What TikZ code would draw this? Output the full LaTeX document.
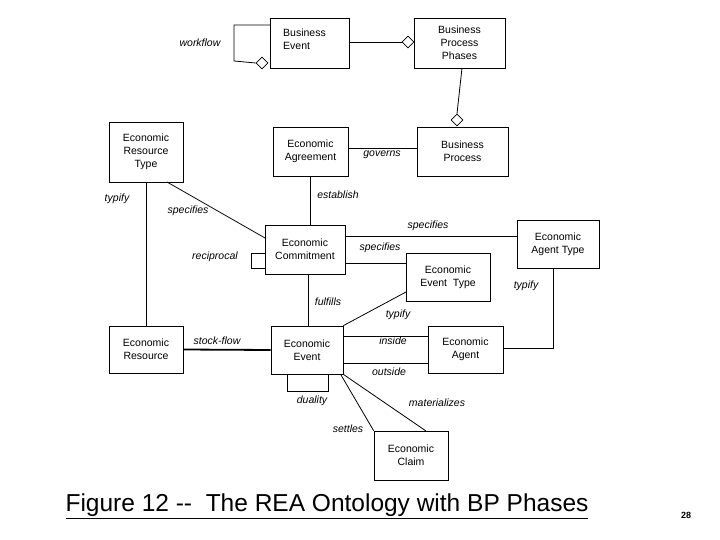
\documentclass[tikz,border=0pt]{standalone}
\usepackage{fontspec}
\setmainfont{Liberation Sans}
\usetikzlibrary{shapes.geometric}
\begin{document}
\begin{tikzpicture}[x=1pt,y=-1pt,
 box/.style={draw,line width=0.8pt,inner sep=0pt,align=center,font=\fontsize{10.5}{13}\selectfont},
 lab/.style={font=\fontsize{10.5}{13}\selectfont\itshape,inner sep=0pt},
 dia/.style={draw,diamond,fill=white,inner sep=0pt,minimum size=12pt,line width=0.7pt},
 ln/.style={line width=0.8pt}]
\useasboundingbox (0,0) rectangle (720,540);
\node[box,minimum width=79pt,minimum height=50pt] (be) at (309.5,43) {};
\node[font=\fontsize{10.5}{13}\selectfont,align=left,inner sep=0pt,anchor=west] (bet) at (283,39) {Business\\Event};
\node[box,minimum width=91pt,minimum height=50pt] (bpp) at (459.5,43) {Business\\Process\\Phases};
\node[box,minimum width=74pt,minimum height=60pt] (ert) at (146,152) {Economic\\Resource\\Type};
\node[box,minimum width=75pt,minimum height=49pt] (ea) at (310.5,151.5) {Economic\\Agreement};
\node[box,minimum width=91pt,minimum height=49pt] (bp) at (462.5,151.5) {Business\\Process};
\node[box,minimum width=80pt,minimum height=49pt] (ec) at (305,249.5) {Economic\\Commitment};
\node[box,minimum width=82pt,minimum height=48pt] (eat) at (558,244) {Economic\\Agent Type};
\node[box,minimum width=84pt,minimum height=48pt] (eet) at (448,277) {Economic\\Event\ \ Type};
\node[box,minimum width=74pt,minimum height=47pt] (er) at (146,349.5) {Economic\\Resource};
\node[box,minimum width=72pt,minimum height=48pt] (ee) at (307,350) {Economic\\Event};
\node[box,minimum width=75pt,minimum height=47pt] (eag) at (465.5,349.5) {Economic\\Agent};
\node[box,minimum width=74pt,minimum height=49pt] (ecl) at (411,455.5) {Economic\\Claim};
% diamonds
\node[dia] (d1) at (262,63) {};
\node[dia] (d2) at (408,42) {};
\node[dia] (d3) at (457,120) {};
\coordinate (w0) at (270,25);
\coordinate (w1) at (234,25);
\coordinate (w2) at (234,61);
\draw[ln] (w0) -- (w1) -- (w2) -- (d1.west);
\draw[ln] (349,42) -- (d2.west);
\draw[ln] (462,68) -- (d3.north);
\draw[ln] (348,148) -- (417,148);
\draw[ln] (310,176) -- (310,225);
\draw[ln] (167,182) -- (265,238);
\draw[ln] (ert.south) -- (er.north);
\coordinate (r1) at (251,253); \coordinate (r2) at (251,268);
\draw[ln] (265,253) -- (r1) -- (r2) -- (265,268);
\draw[ln] (345,236.5) -- (517,236.5);
\draw[ln] (345,263) -- (406,263);
\draw[ln] (308,274) -- (308,326);
\draw[ln] (406,292) -- (ee.north east);
\draw[line width=1.8pt] (er.east) -- (ee.west);
\draw[ln] (343,336) -- (428,336);
\draw[ln] (343,363) -- (428,363);
\coordinate (a1) at (553,348);
\draw[ln] (503,348) -- (a1) -- (553,268);
\coordinate (u1) at (287,391); \coordinate (u2) at (328,391);
\draw[ln] (287,374) -- (u1) -- (u2) -- (328,374);
\draw[ln] (341,375) -- (ecl.north west);
\draw[ln] (ee.south east) -- (426,431);
% labels
\node[lab] (l1) at (200,43) {workflow};
\node[lab] (l2) at (382,155) {governs};
\node[lab] (l3) at (338,195) {establish};
\node[lab] (l4) at (117,199) {typify};
\node[lab] (l5) at (188,211) {specifies};
\node[lab] (l6) at (215,257) {reciprocal};
\node[lab] (l7) at (428,226) {specifies};
\node[lab] (l8) at (380,248) {specifies};
\node[lab] (l9) at (328,302) {fulfills};
\node[lab] (l10) at (398,315) {typify};
\node[lab] (l11) at (526,286) {typify};
\node[lab] (l12) at (217,341) {stock-flow};
\node[lab] (l13) at (393,341) {inside};
\node[lab] (l14) at (389,372) {outside};
\node[lab] (l15) at (312,401) {duality};
\node[lab] (l16) at (437,403) {materializes};
\node[lab] (l17) at (348,429) {settles};
\node[font=\fontsize{24.5}{28}\selectfont,inner sep=0pt] (title) at (327,506) {\underline{Figure 12 {-}{-} \ The REA Ontology with BP Phases}};
\node[font=\fontsize{9}{11}\selectfont\bfseries,inner sep=0pt] (pg) at (686,515) {28};
\end{tikzpicture}
\end{document}
